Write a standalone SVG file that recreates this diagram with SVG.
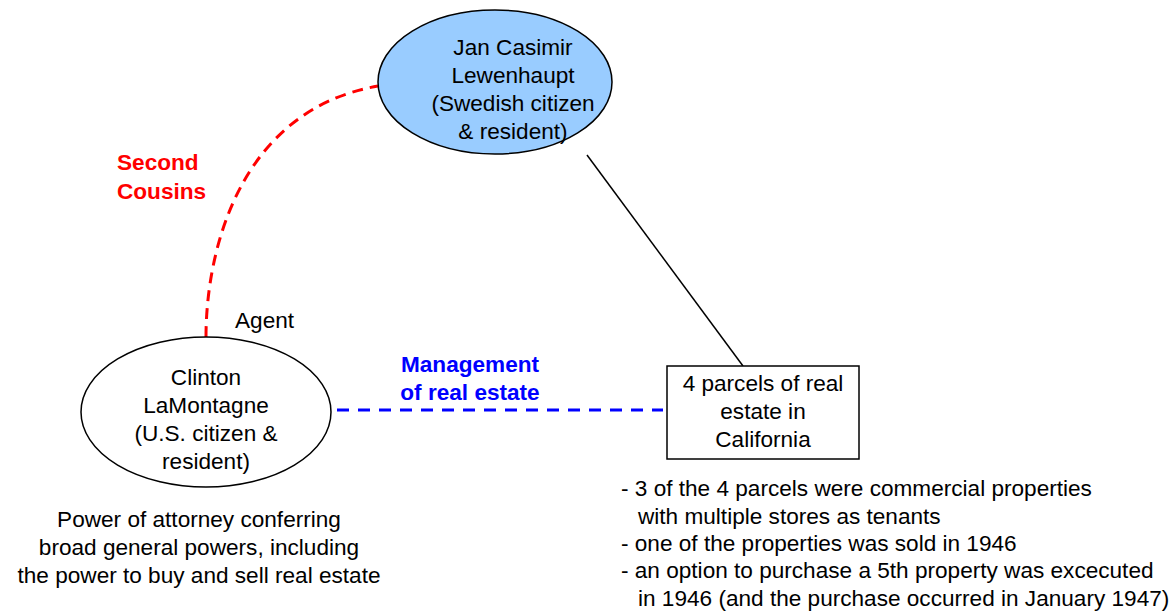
<svg xmlns="http://www.w3.org/2000/svg" width="1176" height="611" viewBox="0 0 1176 611">
<style>
text{font-family:"Liberation Sans",Arial,sans-serif;font-size:22.6px;fill:#000}
.c{text-anchor:middle}
.red{fill:#ff0000;font-weight:bold}
.blue{fill:#0000ff;font-weight:bold}
</style>
<rect width="1176" height="611" fill="#fff"/>
<g id="connectors" fill="none">
<path d="M206,337 C206,250 240,110 378,86" stroke="#ff0000" stroke-width="3" stroke-dasharray="11,7"/>
<line x1="587" y1="155" x2="743" y2="366" stroke="#000" stroke-width="1.5"/>
<line x1="337" y1="410" x2="663" y2="410" stroke="#0000ff" stroke-width="3" stroke-dasharray="12,9"/>
<text class="red" x="117" y="170">Second</text>
<text class="red" x="117" y="199">Cousins</text>
<text x="235" y="328">Agent</text>
<text class="blue c" x="470" y="372">Management</text>
<text class="blue c" x="470" y="400">of real estate</text>
</g>
<g id="lewenhaupt">
<ellipse cx="495" cy="82" rx="117" ry="72" fill="#99ccff" stroke="#000" stroke-width="1.5"/>
<text class="c" x="513" y="55">Jan Casimir</text>
<text class="c" x="513" y="83">Lewenhaupt</text>
<text class="c" x="513" y="111">(Swedish citizen</text>
<text class="c" x="513" y="139">&amp; resident)</text>
</g>
<g id="lamontagne">
<ellipse cx="206" cy="412" rx="125" ry="75" fill="#fff" stroke="#000" stroke-width="1.5"/>
<text class="c" x="206" y="385">Clinton</text>
<text class="c" x="206" y="413">LaMontagne</text>
<text class="c" x="206" y="441">(U.S. citizen &amp;</text>
<text class="c" x="206" y="469">resident)</text>
<text class="c" x="199" y="527">Power of attorney conferring</text>
<text class="c" x="199" y="555">broad general powers, including</text>
<text class="c" x="199" y="583">the power to buy and sell real estate</text>
</g>
<g id="parcels">
<rect x="667" y="366" width="192" height="93" fill="#fff" stroke="#000" stroke-width="1.5"/>
<text class="c" x="763" y="391">4 parcels of real</text>
<text class="c" x="763" y="419">estate in</text>
<text class="c" x="763" y="447">California</text>
<text x="621" y="496">- 3 of the 4 parcels were commercial properties</text>
<text x="638" y="524">with multiple stores as tenants</text>
<text x="621" y="551">- one of the properties was sold in 1946</text>
<text x="621" y="578">- an option to purchase a 5th property was excecuted</text>
<text x="638" y="606">in 1946 (and the purchase occurred in January 1947)</text>
</g>
</svg>
